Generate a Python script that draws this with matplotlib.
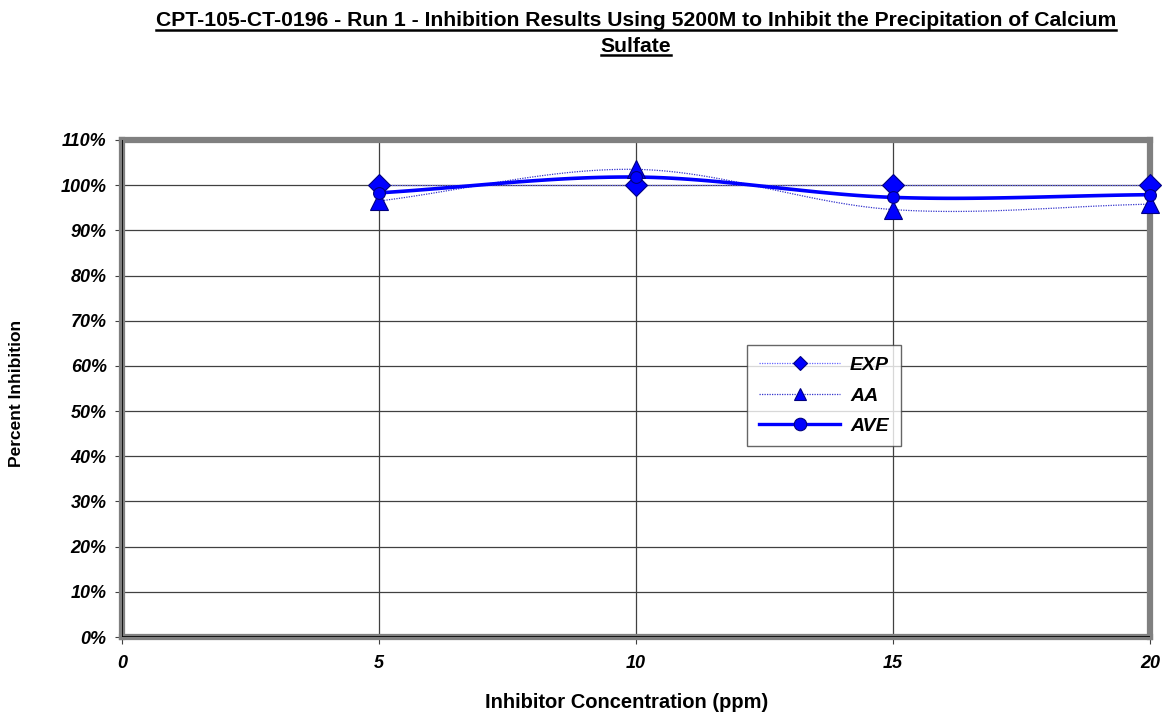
import numpy as np
import matplotlib
matplotlib.use("Agg")
import matplotlib.pyplot as plt
from matplotlib.lines import Line2D

plt.rcParams['font.family'] = ['Liberation Sans', 'DejaVu Sans']

# ---- data ----
conc = [5, 10, 15, 20]
exp_vals = [1.00, 1.00, 1.00, 1.00]
aa_vals = [0.965, 1.035, 0.946, 0.958]
ave_vals = [0.983, 1.018, 0.973, 0.979]
series_names = ["EXP", "AA", "AVE"]
x_ticks = [0, 5, 10, 15, 20]
y_ticks = [i / 10 for i in range(12)]

title_lines = ["CPT-105-CT-0196 - Run 1 - Inhibition Results Using 5200M to Inhibit the Precipitation of Calcium",
               "Sulfate"]
xlabel = "Inhibitor Concentration (ppm)"
ylabel = "Percent Inhibition"


def smooth(x, y, n=30):
    """Catmull-Rom curve through the points (for a smoothed line look)."""
    x = np.asarray(x, float)
    y = np.asarray(y, float)
    P = np.column_stack([x, y])
    P = np.vstack([2 * P[0] - P[1], P, 2 * P[-1] - P[-2]])
    out = []
    t = np.linspace(0, 1, n)[:, None]
    for i in range(1, len(P) - 2):
        p0, p1, p2, p3 = P[i - 1], P[i], P[i + 1], P[i + 2]
        seg = 0.5 * ((2 * p1) + (-p0 + p2) * t + (2 * p0 - 5 * p1 + 4 * p2 - p3) * t ** 2
                     + (-p0 + 3 * p1 - 3 * p2 + p3) * t ** 3)
        out.append(seg if i == 1 else seg[1:])
    out = np.vstack(out)
    return out[:, 0], out[:, 1]


fig = plt.figure(figsize=(11.67, 7.13), dpi=100)
ax = fig.add_axes([122 / 1167, 1 - 637 / 713, (1150 - 122) / 1167, (637 - 140) / 713])

ax.set_xlim(0, 20)
ax.set_ylim(0, 1.10)
ax.set_xticks(x_ticks)
ax.set_yticks(y_ticks)
ax.set_xticklabels([str(v) for v in x_ticks], fontsize=13, fontweight='bold', style='italic')
ax.set_yticklabels([f"{int(round(v * 100))}%" for v in y_ticks], fontsize=13, fontweight='bold', style='italic')
ax.tick_params(axis='x', direction='out', length=5, width=0.8, color='#404040', pad=8)
ax.tick_params(axis='y', direction='out', length=5, width=0.8, color='#404040', pad=6)

ax.grid(True, color='#404040', linewidth=0.9)
ax.set_axisbelow(True)

for s in ax.spines.values():
    s.set_color('#808080')
    s.set_linewidth(4.5)
ax.axvline(0, color='black', lw=1.2, zorder=3)
ax.axhline(0, color='black', lw=1.2, zorder=3)

navy = '#000080'
blue = '#0000FF'

xs, ys = smooth(conc, exp_vals)
ax.plot(xs, ys, color='#6666FF', lw=0.9, ls=(0, (1, 1)), zorder=4, clip_on=False)
xs, ys = smooth(conc, aa_vals)
ax.plot(xs, ys, color='#3333CC', lw=0.9, ls=(0, (1, 1)), zorder=4, clip_on=False)
xs, ys = smooth(conc, ave_vals)
ax.plot(xs, ys, color=blue, lw=2.6, zorder=5, clip_on=False)

ax.plot(conc, exp_vals, ls='none', marker='D', ms=11.5, mfc=blue, mec=navy, mew=0.8, zorder=6, clip_on=False)
ax.plot(conc, aa_vals, ls='none', marker='^', ms=13, mfc=blue, mec=navy, mew=0.8, zorder=6, clip_on=False)
ax.plot(conc, ave_vals, ls='none', marker='o', ms=8.5, mfc=blue, mec=navy, mew=0.8, zorder=7, clip_on=False)

handles = [
    Line2D([], [], color='#6666FF', lw=0.9, ls=(0, (1, 1)), marker='D', ms=7.5, mfc=blue, mec=navy, mew=0.8),
    Line2D([], [], color='#3333CC', lw=0.9, ls=(0, (1, 1)), marker='^', ms=9, mfc=blue, mec=navy, mew=0.8),
    Line2D([], [], color=blue, lw=2.4, marker='o', ms=9, mfc=blue, mec=navy, mew=0.8),
]
leg = fig.legend(handles, series_names, loc='upper left',
                 bbox_to_anchor=(747 / 1167, 1 - 345 / 713), frameon=True, fancybox=False,
                 shadow=False, edgecolor='#404040', borderpad=0.6, labelspacing=0.65,
                 handlelength=4.2, handletextpad=0.5, borderaxespad=0,
                 prop={'size': 14, 'weight': 'bold', 'style': 'italic'})
leg.get_frame().set_linewidth(1.0)

fig.text(627 / 1167, 1 - 703 / 713, xlabel, ha='center', va='center', fontsize=14.5, fontweight='bold')
fig.text(17 / 1167, 1 - 393 / 713, ylabel, rotation=90, fontsize=12.5, fontweight='bold',
         ha='center', va='center')

# title with underline
t1 = fig.text(636 / 1167, 1 - 21 / 713, title_lines[0], ha='center', va='center',
              fontsize=15.2, fontweight='bold')
t2 = fig.text(636 / 1167, 1 - 46 / 713, title_lines[1], ha='center', va='center',
              fontsize=15.2, fontweight='bold')
fig.canvas.draw()
r = fig.canvas.get_renderer()
for t in (t1, t2):
    bb = t.get_window_extent(renderer=r)
    yline = bb.y0 + 1.0
    fig.add_artist(Line2D([bb.x0 / 1167, bb.x1 / 1167], [yline / 713, yline / 713],
                          transform=fig.transFigure, color='black', lw=1.8))

fig.savefig("out.png", dpi=100)
